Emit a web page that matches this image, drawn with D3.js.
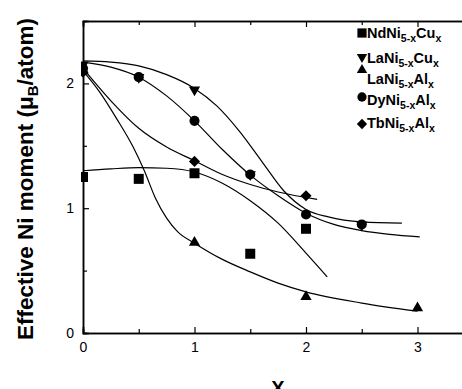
<!DOCTYPE html>
<html>
<head>
<meta charset="utf-8">
<script src="https://cdn.jsdelivr.net/npm/d3@7"></script>
<style>
  body { margin: 0; background: #fff; }
  text { font-family: "Liberation Sans", Arial, sans-serif; fill: #000; }
</style>
</head>
<body>
<svg id="canvas" width="462" height="389"></svg>
<script>
var ndCuPts = [[0, 1.25], [0.5, 1.235], [1, 1.28], [1.5, 0.635], [2, 0.835]];
var laCuPts = [[0, 2.15], [0.5, 2.05], [1, 1.95], [1.5, 1.27], [2.5, 0.865]];
var laAlPts = [[0, 2.1], [1, 0.725], [2, 0.29], [3, 0.2]];
var dyAlPts = [[0, 2.12], [0.5, 2.05], [1, 1.70], [1.5, 1.27], [2, 0.95], [2.5, 0.87]];
var tbAlPts = [[0, 2.09], [1, 1.375], [2, 1.10]];

// fitted curves
var ndCuFit = [[0, 1.30], [0.25, 1.315], [0.5, 1.325], [0.75, 1.32], [1, 1.29], [1.25, 1.2], [1.5, 1.06], [1.75, 0.88], [2, 0.64], [2.19, 0.45]];
var laCuFit = [[0, 2.18], [0.25, 2.17], [0.5, 2.14], [0.75, 2.07], [1, 1.96], [1.2, 1.82], [1.4, 1.62], [1.6, 1.38], [1.8, 1.14], [2.0, 0.99], [2.2, 0.93], [2.5, 0.89], [2.86, 0.88]];
var laAlFit = [[0, 2.1], [0.15, 1.93], [0.3, 1.72], [0.45, 1.49], [0.55, 1.3], [0.65, 1.08], [0.75, 0.92], [0.85, 0.81], [1, 0.72], [1.25, 0.59], [1.5, 0.49], [1.75, 0.4], [2, 0.33], [2.5, 0.24], [3, 0.175]];
var dyAlFit = [[0, 2.17], [0.25, 2.13], [0.5, 2.05], [0.75, 1.9], [1, 1.70], [1.25, 1.47], [1.5, 1.265], [1.75, 1.1], [2, 0.96], [2.25, 0.87], [2.5, 0.82], [2.75, 0.79], [3.02, 0.77]];
var tbAlFit = [[0, 2.12], [0.25, 1.86], [0.5, 1.64], [0.75, 1.49], [1, 1.38], [1.25, 1.27], [1.5, 1.19], [1.75, 1.13], [2.1, 1.07]];

var xTicks = [0, 1, 2, 3];
var xMinor = [0.5, 1.5, 2.5, 3.5];
var yTicks = [0, 1, 2];
var yMinor = [0.5, 1.5];

// legend: compound name split into [main, sub] pieces
var legendNames = [
  [['NdNi', '5-x'], ['Cu', 'x']],
  [['LaNi', '5-x'], ['Cu', 'x']],
  [['LaNi', '5-x'], ['Al', 'x']],
  [['DyNi', '5-x'], ['Al', 'x']],
  [['TbNi', '5-x'], ['Al', 'x']]
];

var canvas = d3.select('#canvas');
var margin = { left: 83, top: 21, bottom: 56 };

var xScale = d3.scaleLinear().domain([0, 3.5]).range([margin.left, margin.left + 111.5 * 3.5]);
var yScale = d3.scaleLinear().domain([0, 2.5]).range([389 - margin.bottom, margin.top]);

var plotTop = yScale(2.5), plotBot = yScale(0);

canvas.append('clipPath').attr('id', 'clip')
  .append('rect')
  .attr('x', xScale(0) - 2).attr('y', 0)
  .attr('width', 462).attr('height', plotBot + 8);

// axes (bottom, top, left), ticks pointing inside
function tickAxis(axisFn, scale, vals, len) {
  return axisFn(scale).tickValues(vals).tickSize(len).tickFormat('');
}

var gBot = canvas.append('g').attr('transform', 'translate(0,' + plotBot + ')');
gBot.call(d3.axisBottom(xScale).tickValues(xTicks).tickSize(-6).tickPadding(9).tickFormat(d3.format('d')));
gBot.append('g').call(tickAxis(d3.axisBottom, xScale, xMinor, -4));

var gTop = canvas.append('g').attr('transform', 'translate(0,' + plotTop + ')');
gTop.call(tickAxis(d3.axisTop, xScale, xTicks, -6));
gTop.append('g').call(tickAxis(d3.axisTop, xScale, xMinor, -4));

var gLeft = canvas.append('g').attr('transform', 'translate(' + xScale(0) + ',0)');
gLeft.call(d3.axisLeft(yScale).tickValues(yTicks).tickSize(-6).tickPadding(9).tickFormat(d3.format('d')));
gLeft.append('g').call(tickAxis(d3.axisLeft, yScale, yMinor, -4));

canvas.selectAll('.domain').attr('stroke', '#000').attr('stroke-width', 1.5);
canvas.selectAll('.tick line').attr('stroke', '#000').attr('stroke-width', 1.2);
canvas.selectAll('.tick text')
  .style('font-family', '"Liberation Sans", Arial, sans-serif')
  .style('font-size', '14px').attr('fill', '#000');

// fit curves
var line = d3.line()
  .x(function(d) { return xScale(d[0]); })
  .y(function(d) { return yScale(d[1]); })
  .curve(d3.curveMonotoneX);

var plot = canvas.append('g').attr('clip-path', 'url(#clip)');

[ndCuFit, laCuFit, laAlFit, dyAlFit, tbAlFit].forEach(function(f) {
  plot.append('path').datum(f)
    .attr('d', line)
    .attr('fill', 'none')
    .attr('stroke', '#000')
    .attr('stroke-width', 1.2);
});

// markers
var shapes = [
  { pts: ndCuPts, type: d3.symbolSquare, size: 100, rot: 0 },
  { pts: laCuPts, type: d3.symbolTriangle, size: 55, rot: 180 },
  { pts: laAlPts, type: d3.symbolTriangle, size: 55, rot: 0 },
  { pts: dyAlPts, type: d3.symbolCircle, size: 80, rot: 0 },
  { pts: tbAlPts, type: d3.symbolSquare, size: 62, rot: 45 }
];

shapes.forEach(function(s) {
  plot.selectAll(null)
    .data(s.pts)
    .enter()
    .append('path')
    .attr('d', d3.symbol().type(s.type).size(s.size))
    .attr('transform', function(d) {
      return 'translate(' + xScale(d[0]) + ',' + yScale(d[1]) + ') rotate(' + s.rot + ')';
    })
    .attr('fill', '#000');
});

// legend
var legX = 362;
var legText = [38, 63, 84, 105, 128];
var legMarkY = [33, 57, 70, 97, 124];

shapes.forEach(function(s, i) {
  canvas.append('path')
    .attr('d', d3.symbol().type(s.type).size(s.size * 0.85))
    .attr('transform', 'translate(' + legX + ',' + legMarkY[i] + ') rotate(' + s.rot + ')')
    .attr('fill', '#000');

  var t = canvas.append('text')
    .attr('x', legX + 5)
    .attr('y', legText[i])
    .style('font-size', '14.5px')
    .style('font-weight', 'bold');
  legendNames[i].forEach(function(p) {
    t.append('tspan').text(p[0]);
    t.append('tspan').text(p[1]).style('font-size', '10.5px').attr('baseline-shift', '-4');
  });
});

// axis titles
canvas.append('text')
  .attr('x', 278).attr('y', 395)
  .attr('text-anchor', 'middle')
  .style('font-size', '20px')
  .style('font-weight', 'bold')
  .text('X');

var yTitle = canvas.append('text')
  .attr('transform', 'translate(33,179) rotate(-90)')
  .attr('text-anchor', 'middle')
  .style('font-size', '22.5px')
  .style('font-weight', 'bold');
yTitle.append('tspan').text('Effective Ni moment (\u03bc');
yTitle.append('tspan').text('B').style('font-size', '15px').attr('baseline-shift', '-5');
yTitle.append('tspan').text('/atom)');
</script>
</body>
</html>
